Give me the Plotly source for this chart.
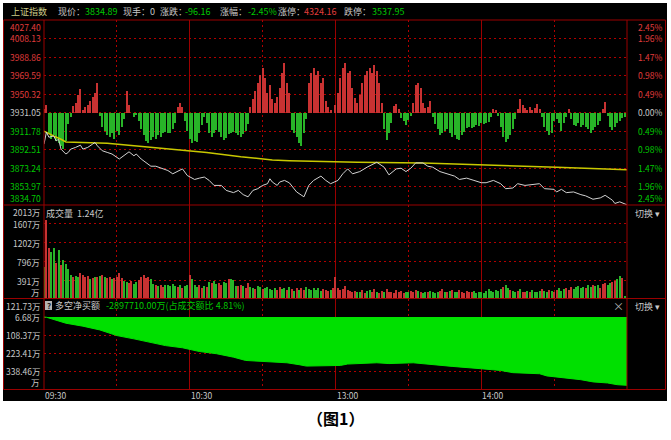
import plotly.graph_objects as go

# ------------------------------------------------------------------ data
prev_close = 3931.05
price_ticks = [3834.70, 3853.97, 3873.24, 3892.51, 3911.78, 3931.05,
               3950.32, 3969.59, 3988.86, 4008.13, 4027.40]

# minute index since 09:30 (0..240, lunch break removed)
price_min = [0, 1, 2, 4, 5, 6, 7, 9, 10, 11, 13, 15, 16, 18, 20, 21, 22, 24, 26, 28,
             31, 33, 35, 37, 38, 40, 42, 44, 46, 48, 51, 53, 56, 57, 59, 62, 64, 66, 68, 70,
             73, 75, 78, 80, 82, 84, 86, 88, 90, 92, 93, 94, 96, 97, 99, 101, 104, 107, 109, 111,
             114, 116, 118, 121, 123, 125, 127, 130, 133, 135, 137, 140, 142, 145, 147, 149, 151, 153, 156, 158,
             160, 163, 166, 169, 171, 174, 177, 180, 182, 185, 188, 190, 193, 195, 198, 201, 204, 206, 210, 211,
             213, 215, 218, 221, 223, 226, 229, 231, 234, 235, 237, 240]
price_val = [3898.1, 3910.7, 3905.3, 3906.6, 3901.5, 3903.2, 3892.9, 3887.8, 3889.5, 3892.9,
             3894.7, 3897.0, 3892.9, 3894.7, 3898.1, 3899.8, 3896.3, 3891.2, 3889.5, 3887.8,
             3882.6, 3886.0, 3890.1, 3886.0, 3887.8, 3882.6, 3879.2, 3875.1, 3875.1, 3873.0,
             3870.6, 3867.2, 3871.6, 3872.3, 3865.4, 3861.3, 3862.7, 3863.8, 3860.3, 3855.1,
             3855.1, 3849.9, 3847.6, 3849.9, 3845.5, 3843.2, 3849.9, 3851.7, 3855.1, 3856.9,
             3862.0, 3858.6, 3855.1, 3858.6, 3860.3, 3857.8, 3848.3, 3843.2, 3855.1, 3860.3,
             3864.8, 3860.3, 3856.9, 3860.3, 3867.2, 3872.3, 3867.2, 3869.5, 3874.1, 3876.4,
             3879.2, 3874.1, 3866.1, 3872.3, 3873.0, 3869.5, 3873.0, 3878.5, 3878.5, 3875.1,
             3874.1, 3869.5, 3867.2, 3864.8, 3861.3, 3862.7, 3860.3, 3857.9, 3857.9, 3860.3,
             3856.9, 3851.7, 3852.4, 3856.9, 3855.1, 3855.8, 3856.9, 3851.7, 3851.0, 3848.3,
             3851.0, 3847.6, 3848.3, 3845.5, 3844.2, 3840.7, 3842.1, 3844.8, 3839.7, 3836.3,
             3838.0, 3834.89]

avg_min = [0, 1, 4, 7, 9, 26, 53, 67, 81, 94, 101, 129, 156, 184, 211, 240]
avg_val = [3911.5, 3910.1, 3906.6, 3903.2, 3900.4, 3899.1, 3892.9, 3889.5, 3885.0,
           3881.6, 3880.9, 3879.2, 3878.5, 3876.4, 3874.1, 3871.3]

# red/green strength bars around previous close (one per minute)
force = [4, 8, -20, -26, -22, -28, -30, -33, -36, -28,
         -11, -4, 7, 10, 18, 24, 3, 6, 8, 12,
         16, 20, 30, -3, -14, -18, -22, -24, -20, -26,
         -18, -22, -14, -6, 22, 8, 0, -4, -2, -8,
         -16, -22, -28, -30, -27, -24, -26, -22, -24, -20,
         -19, -20, -20, -16, -10, 6, 10, 6, -8, -18,
         -26, -30, -28, -29, -20, -12, -4, -10, -20, -24,
         -20, -17, -19, -24, -27, -25, -21, -20, -19, -20,
         -22, -24, -21, -18, -11, 6, 14, 22, 30, 38,
         45, 35, 20, 28, 14, 10, 16, 25, 40, 50,
         30, 20, -17, -20, -24, -30, -33, -20, -6, 30,
         40, 45, 38, 42, 30, 35, 12, 6, 3, 0,
         8, 20, 35, 45, 50, 40, 42, 25, 15, 10,
         18, 30, 38, 42, 45, 40, 48, 42, 30, 10,
         -16, -27, -20, -10, 7, 9, 4, -5, -8, -12,
         -7, -3, 10, 28, 30, 25, 10, 5, 6, 12,
         -4, -11, -16, -22, -20, -18, -16, -20, -24, -22,
         -26, -27, -22, -19, -15, -14, -15, -14, -12, -13,
         -10, -11, -10, -9, -4, 4, 3, -3, -14, -24,
         -29, -26, -22, -16, -6, 4, 14, 8, 5, 3,
         6, 3, 5, 9, 4, -4, -14, -18, -22, -20,
         -8, -6, -10, -18, -10, -4, 4, -6, -12, -13,
         -10, -14, -12, -14, -16, -20, -17, -14, -12, -8,
         4, 11, -3, -14, -17, -14, -10, -8, -5, -4]

# volume per minute (万) and direction of the minute (u = up, d = down)
volume = [690, 1700, 1090, 1000, 1090, 770, 1040, 730, 830, 750,
          640, 520, 480, 500, 470, 560, 520, 480, 500, 420,
          440, 470, 480, 500, 510, 470, 440, 480, 430, 450,
          480, 560, 450, 380, 360, 340, 380, 330, 360, 400,
          480, 510, 440, 470, 420, 330, 300, 280, 300, 260,
          290, 300, 270, 320, 280, 260, 300, 240, 270, 300,
          520, 420, 300, 260, 290, 230, 270, 250, 360, 340,
          380, 330, 350, 300, 360, 340, 420, 430, 400, 280,
          270, 300, 280, 240, 350, 260, 240, 220, 280, 250,
          210, 240, 260, 220, 200, 240, 190, 250, 210, 230,
          200, 250, 210, 180, 230, 200, 240, 190, 260, 220,
          200, 240, 190, 230, 180, 220, 190, 170, 200, 230,
          480, 240, 190, 220, 280, 200, 170, 150, 180, 140,
          160, 190, 130, 170, 200, 150, 210, 160, 130, 180,
          150, 220, 140, 160, 130, 190, 150, 170, 130, 160,
          140, 180, 150, 200, 170, 150, 130, 160, 140, 170,
          150, 130, 160, 180, 210, 160, 140, 170, 190, 150,
          160, 200, 140, 130, 170, 150, 140, 180, 130, 160,
          150, 130, 170, 210, 180, 150, 200, 180, 220, 260,
          300, 230, 200, 180, 150, 170, 210, 160, 140, 180,
          150, 190, 160, 140, 170, 210, 180, 140, 200, 170,
          150, 200, 230, 180, 210, 240, 190, 260, 220, 250,
          270, 230, 250, 240, 290, 260, 310, 280, 300, 240,
          330, 350, 300, 340, 360, 380, 420, 490, 450, 60]
vol_dir = ("duuddududdddudduuuud" "udududuuduuuudduuddu"
           "uuuudduduudddddududd" "uddduudududduudduddd"
           "uuduuddudduddddduudd" "udududuuddddddduuudu"
           "uuuuuuuuudduudduuduu" "duuuuuuuudduuududdud"
           "ddduudududduuuuuuddd" "ddddddddduddudduduud"
           "uddddudduduuddduuudd" "ddduddudduuudduuddud"
           "uududduuuddudduuddud" "ddudduddudduuuudduud"
           "ududdduuuddududduudd" "udduuddududduudududu")

# cumulative net buy (万)
net_min = [0, 1, 9, 16, 23, 30, 37, 44, 50, 57, 64, 71, 78, 83, 92, 100, 105, 108,
           122, 125, 137, 142, 152, 159, 168, 180, 188, 193, 204, 207, 214, 221, 226, 232, 236, 240]
net_val = [6.68, 5, -33, -52, -76, -112, -133, -154, -176, -190, -214, -228, -250, -271,
           -278, -286, -298, -307, -303, -294, -286, -291, -286, -297, -309, -324, -335,
           -349, -356, -370, -381, -394, -408, -415, -426, -430]

vol_ticks = [0, 391, 796, 1202, 1607, 2013]
net_ticks = [121.73, 6.68, -108.37, -223.41, -338.46]
time_ticks = [0, 60, 120, 180]
time_labels = ["09:30", "10:30", "13:00", "14:00"]
half_hour_ticks = [30, 90, 150, 210]

# ------------------------------------------------------------------ style
W, H = 671, 440
def fx(p): return p / W
def fy(p): return 1 - p / H

FONT = "Noto Sans CJK SC"
C_RED_T = "#e03c3c"
C_GRN_T = "#00c800"
C_WHT_T = "#c8c8c8"
C_FRAME = "#9a0000"
C_GRID = "#b00000"
C_BAR_R = "#c83232"
C_BAR_G = "#28b428"
DASH = "2px,3px"

XDOM = [fx(44), fx(627)]
PDOM = [fy(205), fy(20)]
VDOM = [fy(299), fy(205)]
NDOM = [fy(389), fy(299)]

fig = go.Figure()

minutes = list(range(len(force)))
fig.add_trace(go.Bar(x=minutes, y=force, width=0.42,
                     marker=dict(color=[C_BAR_R if v > 0 else C_BAR_G for v in force], line_width=0),
                     xaxis="x", yaxis="y", hoverinfo="skip"))
fig.add_trace(go.Scatter(x=avg_min, y=avg_val, mode="lines",
                         line=dict(color="#c8c800", width=1.5), xaxis="x", yaxis="y4"))
fig.add_trace(go.Scatter(x=price_min, y=price_val, mode="lines",
                         line=dict(color="#d2d2d2", width=1), xaxis="x", yaxis="y4"))

fig.add_trace(go.Bar(x=list(range(len(volume))), y=volume, width=0.42,
                     marker=dict(color=[C_BAR_R if d == "u" else C_BAR_G for d in vol_dir], line_width=0),
                     xaxis="x2", yaxis="y2"))

fig.add_trace(go.Scatter(x=[net_min[0], net_min[-1]], y=[net_val[0], net_val[0]], mode="lines",
                         line=dict(width=0, color="#00e000"), xaxis="x3", yaxis="y3"))
fig.add_trace(go.Scatter(x=net_min, y=net_val, mode="lines", fill="tonexty",
                         fillcolor="#00e000", line=dict(color="#00e000", width=1),
                         xaxis="x3", yaxis="y3"))

def xax(anchor):
    return dict(domain=XDOM, range=[0, 240], anchor=anchor, showticklabels=False,
                ticks="", zeroline=False, showline=False,
                tickmode="array", tickvals=time_ticks[1:], showgrid=True,
                gridcolor=C_FRAME, gridwidth=1,
                minor=dict(tickmode="array", tickvals=half_hour_ticks, showgrid=True,
                           gridcolor=C_GRID, griddash=DASH, gridwidth=1, ticks=""))

step_net = net_ticks[0] - net_ticks[1]
fig.update_layout(
    width=W, height=H, autosize=False,
    margin=dict(l=0, r=0, t=0, b=0),
    paper_bgcolor="white", plot_bgcolor="rgba(0,0,0,0)",
    showlegend=False, bargap=0,
    font=dict(family=FONT, size=9, color=C_WHT_T),
    xaxis=xax("y"), xaxis2=xax("y2"), xaxis3=xax("y3"),
    yaxis=dict(domain=PDOM, range=[-92.5, 92.5], showgrid=False, showticklabels=False,
               zeroline=False, ticks=""),
    yaxis4=dict(domain=PDOM, range=[price_ticks[0], price_ticks[-1]], overlaying="y",
                anchor="x", showticklabels=False, ticks="", zeroline=False,
                tickmode="array", tickvals=price_ticks[1:-1], showgrid=True,
                gridcolor=C_GRID, griddash=DASH, gridwidth=1),
    yaxis2=dict(domain=VDOM, range=[vol_ticks[0], vol_ticks[-1]], anchor="x2",
                showticklabels=False, ticks="", zeroline=False,
                tickmode="array", tickvals=vol_ticks[1:-1], showgrid=True,
                gridcolor=C_GRID, griddash=DASH, gridwidth=1),
    yaxis3=dict(domain=NDOM, range=[net_ticks[-1] - step_net, net_ticks[0]], anchor="x3",
                showticklabels=False, ticks="", zeroline=False,
                tickmode="array", tickvals=net_ticks[1:], showgrid=True,
                gridcolor=C_GRID, griddash=DASH, gridwidth=1),
)

shapes = [dict(type="rect", xref="paper", yref="paper", x0=fx(3), x1=fx(667), y0=fy(401), y1=fy(3),
               fillcolor="black", line_width=0, layer="below")]
def hline(y, x0=3.5, x1=665.5):
    shapes.append(dict(type="line", xref="paper", yref="paper", x0=fx(x0), x1=fx(x1), y0=fy(y), y1=fy(y),
                       line=dict(color=C_FRAME, width=1), layer="above"))
def vline(x, y0=20, y1=389.5):
    shapes.append(dict(type="line", xref="paper", yref="paper", x0=fx(x), x1=fx(x), y0=fy(y0), y1=fy(y1),
                       line=dict(color=C_FRAME, width=1), layer="above"))
for yy in (20, 205, 298.5, 389.5):
    hline(yy)
for xx in (3.5, 44, 627, 665.5):
    vline(xx)
# small "?" icon
shapes.append(dict(type="rect", xref="paper", yref="paper", x0=fx(45), x1=fx(52), y0=fy(310), y1=fy(301),
                   fillcolor="#b4b4b4", line_width=0, layer="above"))
fig.update_layout(shapes=shapes)

ann = []
def text(x, y, s, color=C_WHT_T, size=9, xanchor="left", yanchor="middle", xref="paper", yref="paper", bold=False):
    ann.append(dict(x=x, y=y, xref=xref, yref=yref, text=("<b>%s</b>" % s) if bold else s,
                    showarrow=False, xanchor=xanchor, yanchor=yanchor,
                    font=dict(family=FONT, size=size, color=color), borderpad=0))

# header row
hy = fy(11)
text(fx(10), hy, "上证指数", color="#cccc88")
text(fx(57), hy, "现价：")
text(fx(84), hy, "3834.89", color=C_GRN_T)
text(fx(122), hy, "现手：0")
text(fx(159), hy, "涨跌：")
text(fx(184), hy, "-96.16", color=C_GRN_T)
text(fx(219), hy, "涨幅：")
text(fx(247), hy, "-2.45%", color=C_GRN_T)
text(fx(277), hy, "涨停：")
text(fx(303), hy, "4324.16", color=C_RED_T)
text(fx(343), hy, "跌停：")
text(fx(371), hy, "3537.95", color=C_GRN_T)

# price / percentage labels
for i, p in enumerate(price_ticks):
    col = C_RED_T if p > prev_close + 1e-6 else (C_GRN_T if p < prev_close - 1e-6 else C_WHT_T)
    ya = "top" if i == len(price_ticks) - 1 else ("bottom" if i == 0 else "middle")
    pct = abs(p - prev_close) / prev_close * 100
    text(fx(42), p, "%.2f" % p, color=col, xanchor="right", yanchor=ya, yref="y4", size=8.5)
    text(fx(664), p, "%.2f%%" % pct, color=col, xanchor="right", yanchor=ya, yref="y4", size=8.5)

# volume labels
for i, v in enumerate(vol_ticks):
    ya = "top" if i == len(vol_ticks) - 1 else ("bottom" if i == 0 else "middle")
    text(fx(41), v, "万" if v == 0 else "%d万" % v, xanchor="right", yanchor=ya, yref="y2", size=8.5)
text(fx(45), fy(213), "成交量  1.24亿")
text(fx(634), fy(213), "切换 ▾")

# net buy labels
for i, v in enumerate(net_ticks):
    ya = "top" if i == 0 else "middle"
    text(fx(41), v, "%.2f万" % abs(v), xanchor="right", yanchor=ya, yref="y3", size=8.5)
text(fx(41), net_ticks[-1] - step_net, "万", xanchor="right", yanchor="bottom", yref="y3", size=8.5)
text(fx(48.5), fy(305.5), "?", color="#202020", size=8, xanchor="center", bold=True)
text(fx(54), fy(305), "多空净买额")
text(fx(105), fy(305), "-2897710.00万(占成交额比 4.81%)", color=C_GRN_T)
text(fx(618.5), fy(306), "×", color="#b0b0b0", size=11, xanchor="center")
text(fx(634), fy(306), "切换 ▾")

# time labels
for t, lab in zip(time_ticks, time_labels):
    text(t, fy(395), lab, xanchor="left", xref="x3", size=8.5)

# caption
text(fx(335), fy(418), "（图1）", color="black", size=16, xanchor="center", bold=True)

fig.update_layout(annotations=ann)
fig.write_html("out.html", config={"displayModeBar": False},
               post_script="document.body.style.margin='0';document.body.style.overflow='hidden';")
